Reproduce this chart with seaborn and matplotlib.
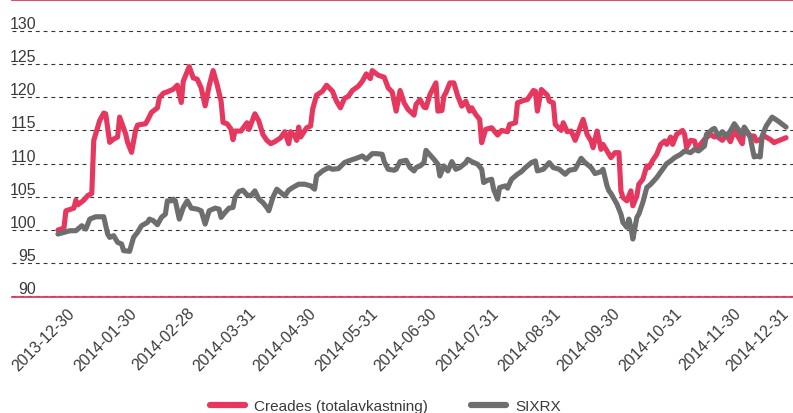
import matplotlib
matplotlib.use('Agg')
import matplotlib.pyplot as plt
import matplotlib.transforms as mtransforms
from matplotlib.lines import Line2D
import seaborn as sns
import pandas as pd

# Index values (start = 100)
creades_dates = [
    '2013-12-30', '2014-01-02', '2014-01-03', '2014-01-07', '2014-01-08', '2014-01-09',
    '2014-01-12', '2014-01-14', '2014-01-16', '2014-01-17', '2014-01-18', '2014-01-20',
    '2014-01-22', '2014-01-23', '2014-01-25', '2014-01-27', '2014-01-29', '2014-01-30',
    '2014-02-02', '2014-02-03', '2014-02-05', '2014-02-07', '2014-02-08', '2014-02-12',
    '2014-02-13', '2014-02-15', '2014-02-18', '2014-02-19', '2014-02-21', '2014-02-23',
    '2014-02-26', '2014-02-28', '2014-03-02', '2014-03-03', '2014-03-06', '2014-03-08',
    '2014-03-10', '2014-03-12', '2014-03-14', '2014-03-16', '2014-03-18', '2014-03-20',
    '2014-03-22', '2014-03-23', '2014-03-25', '2014-03-27', '2014-03-28', '2014-03-29',
    '2014-04-01', '2014-04-04', '2014-04-05', '2014-04-08', '2014-04-10', '2014-04-12',
    '2014-04-14', '2014-04-16', '2014-04-18', '2014-04-21', '2014-04-23', '2014-04-25',
    '2014-04-26', '2014-04-28', '2014-04-29', '2014-04-30', '2014-05-01', '2014-05-04',
    '2014-05-06', '2014-05-07', '2014-05-09', '2014-05-12', '2014-05-14', '2014-05-17',
    '2014-05-19', '2014-05-21', '2014-05-23', '2014-05-25', '2014-05-27', '2014-05-30',
    '2014-06-01', '2014-06-03', '2014-06-05', '2014-06-06', '2014-06-09', '2014-06-12',
    '2014-06-14', '2014-06-16', '2014-06-18', '2014-06-20', '2014-06-22', '2014-06-24',
    '2014-06-27', '2014-06-28', '2014-06-30', '2014-07-02', '2014-07-03', '2014-07-05',
    '2014-07-08', '2014-07-09', '2014-07-11', '2014-07-12', '2014-07-13', '2014-07-15',
    '2014-07-17', '2014-07-19', '2014-07-21', '2014-07-23', '2014-07-25', '2014-07-26',
    '2014-07-28', '2014-07-30', '2014-07-31', '2014-08-02', '2014-08-05', '2014-08-08',
    '2014-08-10', '2014-08-13', '2014-08-14', '2014-08-17', '2014-08-18', '2014-08-21',
    '2014-08-23', '2014-08-26', '2014-08-27', '2014-08-28', '2014-08-30', '2014-09-02',
    '2014-09-03', '2014-09-05', '2014-09-06', '2014-09-09', '2014-09-10', '2014-09-12',
    '2014-09-14', '2014-09-16', '2014-09-20', '2014-09-22', '2014-09-24', '2014-09-25',
    '2014-09-27', '2014-09-29', '2014-09-30', '2014-10-02', '2014-10-04', '2014-10-06',
    '2014-10-08', '2014-10-09', '2014-10-10', '2014-10-12', '2014-10-14', '2014-10-15',
    '2014-10-17', '2014-10-18', '2014-10-20', '2014-10-22', '2014-10-23', '2014-10-25',
    '2014-10-27', '2014-10-29', '2014-10-31', '2014-11-01', '2014-11-03', '2014-11-04',
    '2014-11-06', '2014-11-09', '2014-11-10', '2014-11-11', '2014-11-13', '2014-11-15',
    '2014-11-16', '2014-11-18', '2014-11-20', '2014-11-23', '2014-11-25', '2014-11-26',
    '2014-11-29', '2014-12-01', '2014-12-03', '2014-12-05', '2014-12-07', '2014-12-09',
    '2014-12-10', '2014-12-13', '2014-12-15', '2014-12-16', '2014-12-18', '2014-12-20',
    '2014-12-23', '2014-12-25', '2014-12-26', '2014-12-31',
]
creades_values = [
    100.0, 100.3, 102.9, 103.3, 104.5, 103.8,
    104.5, 105.2, 105.5, 113.5, 114.5, 116.5,
    117.6, 117.5, 113.2, 113.7, 114.0, 117.0,
    114.5, 113.2, 111.7, 115.0, 115.8, 116.0,
    116.5, 117.7, 118.4, 119.9, 120.6, 120.8,
    121.2, 121.8, 119.2, 122.4, 124.6, 122.9,
    122.7, 121.4, 118.7, 121.7, 124.0, 121.9,
    119.4, 116.2, 116.0, 115.2, 113.6, 114.9,
    114.9, 116.15, 115.15, 117.5, 116.4, 114.4,
    113.5, 113.0, 113.3, 113.9, 114.8, 113.0,
    114.8, 114.15, 113.5, 115.5, 114.0, 115.4,
    115.65, 118.15, 120.3, 120.9, 121.8, 120.9,
    119.4, 118.4, 119.8, 120.15, 121.0, 121.65,
    122.4, 123.5, 122.8, 124.0, 123.3, 123.0,
    121.4, 120.8, 117.9, 121.0, 119.15, 118.15,
    117.3, 118.9, 119.65, 118.5, 118.4, 120.4,
    122.15, 117.9, 118.0, 120.15, 120.65, 122.15,
    122.15, 120.15, 118.65, 119.4, 117.9, 118.4,
    117.4, 116.65, 113.15, 115.15, 115.4, 114.3,
    115.0, 114.8, 115.9, 116.15, 119.15, 119.5,
    119.65, 121.0, 120.9, 117.9, 121.15, 120.3,
    119.4, 119.15, 115.9, 115.0, 116.15, 114.8,
    114.9, 113.5, 116.65, 114.4, 113.4, 112.4,
    114.9, 112.15, 112.9, 111.9, 110.9, 111.65,
    111.65, 105.9, 104.9, 104.4, 105.9, 103.65,
    105.15, 106.9, 107.65, 109.65, 109.4, 110.5,
    111.4, 112.9, 113.4, 112.9, 114.0, 112.9,
    114.4, 115.0, 114.4, 112.4, 113.5, 113.4,
    112.3, 112.9, 113.65, 114.4, 114.0, 114.15,
    113.5, 114.4, 113.3, 114.9, 114.0, 113.0,
    115.4, 114.15, 114.15, 113.4, 113.65, 114.15,
    113.65, 113.15, 113.3, 113.9,
]

sixrx_dates = [
    '2013-12-30', '2014-01-02', '2014-01-05', '2014-01-08', '2014-01-11', '2014-01-13',
    '2014-01-15', '2014-01-18', '2014-01-22', '2014-01-24', '2014-01-25', '2014-01-27',
    '2014-01-29', '2014-01-31', '2014-02-01', '2014-02-04', '2014-02-06', '2014-02-08',
    '2014-02-10', '2014-02-13', '2014-02-14', '2014-02-16', '2014-02-18', '2014-02-20',
    '2014-02-22', '2014-02-23', '2014-02-25', '2014-02-26', '2014-02-27', '2014-03-01',
    '2014-03-03', '2014-03-05', '2014-03-07', '2014-03-10', '2014-03-12', '2014-03-14',
    '2014-03-16', '2014-03-19', '2014-03-21', '2014-03-22', '2014-03-24', '2014-03-26',
    '2014-03-28', '2014-03-29', '2014-03-31', '2014-04-02', '2014-04-04', '2014-04-06',
    '2014-04-08', '2014-04-10', '2014-04-12', '2014-04-14', '2014-04-15', '2014-04-17',
    '2014-04-19', '2014-04-21', '2014-04-23', '2014-04-25', '2014-04-27', '2014-04-30',
    '2014-05-03', '2014-05-06', '2014-05-08', '2014-05-09', '2014-05-12', '2014-05-15',
    '2014-05-17', '2014-05-20', '2014-05-23', '2014-05-25', '2014-05-29', '2014-06-01',
    '2014-06-03', '2014-06-06', '2014-06-08', '2014-06-11', '2014-06-12', '2014-06-14',
    '2014-06-17', '2014-06-18', '2014-06-20', '2014-06-23', '2014-06-25', '2014-06-27',
    '2014-06-28', '2014-06-30', '2014-07-02', '2014-07-03', '2014-07-04', '2014-07-07',
    '2014-07-09', '2014-07-10', '2014-07-12', '2014-07-14', '2014-07-16', '2014-07-18',
    '2014-07-20', '2014-07-23', '2014-07-24', '2014-07-26', '2014-07-29', '2014-07-31',
    '2014-08-01', '2014-08-03', '2014-08-05', '2014-08-06', '2014-08-08', '2014-08-09',
    '2014-08-12', '2014-08-13', '2014-08-15', '2014-08-18', '2014-08-20', '2014-08-22',
    '2014-08-25', '2014-08-27', '2014-08-28', '2014-08-31', '2014-09-03', '2014-09-05',
    '2014-09-08', '2014-09-11', '2014-09-13', '2014-09-16', '2014-09-19', '2014-09-21',
    '2014-09-24', '2014-09-26', '2014-09-29', '2014-09-30', '2014-10-02', '2014-10-03',
    '2014-10-04', '2014-10-07', '2014-10-09', '2014-10-10', '2014-10-12', '2014-10-13',
    '2014-10-14', '2014-10-15', '2014-10-17', '2014-10-18', '2014-10-20', '2014-10-22',
    '2014-10-24', '2014-10-27', '2014-10-30', '2014-11-01', '2014-11-03', '2014-11-05',
    '2014-11-08', '2014-11-10', '2014-11-13', '2014-11-15', '2014-11-17', '2014-11-20',
    '2014-11-21', '2014-11-24', '2014-11-25', '2014-11-27', '2014-11-29', '2014-12-01',
    '2014-12-03', '2014-12-05', '2014-12-07', '2014-12-09', '2014-12-10', '2014-12-13',
    '2014-12-14', '2014-12-15', '2014-12-16', '2014-12-18', '2014-12-19', '2014-12-21',
    '2014-12-24', '2014-12-27', '2014-12-31',
]
sixrx_values = [
    99.4, 99.65, 99.9, 99.9, 100.65, 100.15,
    101.65, 102.0, 102.0, 99.4, 98.9, 99.15,
    98.15, 97.9, 96.9, 96.8, 98.9, 99.65,
    100.65, 101.15, 101.65, 101.4, 100.8, 101.9,
    102.4, 104.4, 104.4, 104.65, 104.4, 101.65,
    103.4, 104.4, 103.3, 103.15, 102.9, 100.9,
    102.9, 103.3, 103.15, 101.9, 102.65, 103.3,
    103.4, 104.9, 105.8, 106.0, 105.3, 105.15,
    105.9, 104.65, 104.15, 103.4, 102.9, 104.9,
    106.15, 105.65, 105.15, 106.0, 106.4, 106.9,
    106.9, 106.65, 106.15, 108.15, 108.9, 109.4,
    109.15, 109.25, 110.15, 110.4, 110.8, 111.15,
    110.65, 111.5, 111.5, 111.4, 110.3, 109.15,
    109.0, 109.15, 110.3, 110.5, 109.4, 108.9,
    109.4, 109.65, 110.15, 112.0, 111.65, 110.65,
    109.9, 108.15, 109.65, 108.9, 110.3, 109.15,
    109.4, 110.15, 110.65, 110.3, 109.9, 109.15,
    107.15, 107.5, 107.65, 106.15, 104.65, 106.4,
    106.65, 106.3, 107.65, 108.4, 108.8, 109.4,
    110.15, 110.4, 108.9, 109.15, 110.15, 109.4,
    109.15, 108.4, 109.0, 109.15, 110.8, 110.15,
    109.4, 108.5, 108.8, 109.15, 106.65, 105.9,
    105.5, 103.9, 102.4, 101.15, 100.4, 101.65,
    100.4, 98.65, 101.9, 102.4, 104.15, 106.4,
    106.9, 107.9, 109.15, 110.0, 110.4, 110.9,
    111.4, 111.9, 111.65, 112.15, 111.9, 112.65,
    114.4, 115.15, 115.3, 114.15, 114.8, 114.15,
    114.9, 116.0, 115.15, 114.4, 115.5, 114.0,
    112.4, 111.0, 111.15, 111.0, 114.15, 115.65,
    117.0, 116.4, 115.5,
]

series_names = ['Creades (totalavkastning)', 'SIXRX']
tick_dates = [
    '2013-12-30', '2014-01-30', '2014-02-28', '2014-03-31', '2014-04-30', '2014-05-31',
    '2014-06-30', '2014-07-31', '2014-08-31', '2014-09-30', '2014-10-31', '2014-11-30',
    '2014-12-31',
]
y_ticks = [90, 95, 100, 105, 110, 115, 120, 125, 130]

df = pd.concat([
    pd.DataFrame({'datum': pd.to_datetime(creades_dates), 'index': creades_values,
                  'serie': series_names[0]}),
    pd.DataFrame({'datum': pd.to_datetime(sixrx_dates), 'index': sixrx_values,
                  'serie': series_names[1]}),
], ignore_index=True)

sns.set_theme(style='white')
plt.rcParams['font.family'] = ['Liberation Sans', 'DejaVu Sans']

red = '#e6375f'
grey = '#6e6e6e'
text_col = '#3a3a3a'

fig = plt.figure(figsize=(7.93, 4.14), dpi=100)
ax = fig.add_axes([12 / 793, 1 - 297.5 / 414, 781 / 793, 297 / 414])

sns.lineplot(data=df, x='datum', y='index', hue='serie', hue_order=series_names,
             palette=[red, grey], estimator=None, linewidth=3.7, legend=False, ax=ax)
for line in ax.get_lines():
    line.set_solid_joinstyle('round')
    line.set_solid_capstyle('round')

start = pd.Timestamp(tick_dates[0])
ax.set_xlim(start - pd.Timedelta(days=23.1), start + pd.Timedelta(days=369.5))
ax.set_ylim(90, 134.7)

ax.set_xlabel('')
ax.set_ylabel('')

# dashed horizontal grid
ax.set_yticks(y_ticks)
ax.yaxis.grid(True, linestyle=(0, (3.5, 3.5)), color='#333333', linewidth=0.8)
ax.xaxis.grid(False)

# spines: red lines top and bottom only
for side in ['left', 'right']:
    ax.spines[side].set_visible(False)
for side in ['top', 'bottom']:
    ax.spines[side].set_color(red)
    ax.spines[side].set_linewidth(1.3)

# y labels sit inside, just above their grid line
ax.tick_params(axis='y', length=0, pad=-17.5, labelsize=11.5, labelcolor=text_col)
for lab in ax.get_yticklabels():
    lab.set_ha('right')
    lab.set_va('bottom')

# x labels rotated, shifted right of their tick (last one kept inside the figure)
ax.set_xticks(pd.to_datetime(tick_dates))
ax.set_xticklabels(tick_dates, rotation=45, ha='right', fontsize=11.3, color=text_col)
ax.tick_params(axis='x', length=0, pad=6.0)
xlabels = ax.get_xticklabels()
for i, lab in enumerate(xlabels):
    shift = 20 if i < len(xlabels) - 1 else 6
    offset = mtransforms.ScaledTranslation(shift / 100, 0, fig.dpi_scale_trans)
    lab.set_transform(lab.get_transform() + offset)

handles = [Line2D([], [], color=c, lw=4.5) for c in (red, grey)]
leg = fig.legend(handles, series_names, loc='center', bbox_to_anchor=(0.486, 0.016),
                 ncol=2, frameon=False, fontsize=11, handlelength=2.3,
                 handletextpad=0.6, columnspacing=2.8)
for t in leg.get_texts():
    t.set_color(text_col)

fig.savefig('out.png', dpi=100)
